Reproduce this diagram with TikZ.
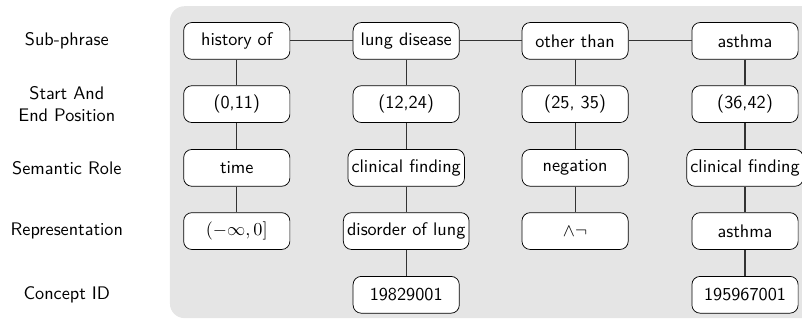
\documentclass[tikz,border=0pt]{standalone}
\renewcommand{\familydefault}{\sfdefault}
\tikzset{
  cell/.style={draw, rounded corners=4.5pt, fill=white, minimum width=2.05cm, minimum height=0.71cm, inner sep=2pt},
  rowlabel/.style={align=center},
  link/.style={semithick, black!80}
}
\begin{document}
\begin{tikzpicture}
				\clip (0,0) rectangle (15.48,-6.27);
				% background panel
				\fill[gray!20, rounded corners=8pt] (3.28,-0.12) rectangle (16,-6.14);
				% row labels
				\node[rowlabel] (lsub) at (1.29,-0.79) {Sub-phrase};
				\node[rowlabel] (lpos) at (1.29,-2.01) {Start And\\End Position};
				\node[rowlabel] (lrole) at (1.29,-3.24) {Semantic Role};
				\node[rowlabel] (lrep) at (1.29,-4.46) {Representation};
				\node[rowlabel] (lid) at (1.29,-5.69) {Concept ID};
				% sub-phrases
				\node[cell] (sub1) at (4.57,-0.79) {history of};
				\node[cell] (sub2) at (7.84,-0.79) {lung disease};
				\node[cell] (sub3) at (11.10,-0.79) {other than};
				\node[cell] (sub4) at (14.38,-0.79) {asthma};
				% positions
				\node[cell] (pos1) at (4.57,-2.01) {(0,11)};
				\node[cell] (pos2) at (7.84,-2.01) {(12,24)};
				\node[cell] (pos3) at (11.10,-2.01) {(25, 35)};
				\node[cell] (pos4) at (14.38,-2.01) {(36,42)};
				% semantic roles
				\node[cell] (role1) at (4.57,-3.24) {time};
				\node[cell] (role2) at (7.84,-3.24) {clinical finding};
				\node[cell] (role3) at (11.10,-3.24) {negation};
				\node[cell] (role4) at (14.38,-3.24) {clinical finding};
				% representations
				\node[cell] (rep1) at (4.57,-4.46) {$(-\infty,0]$};
				\node[cell] (rep2) at (7.84,-4.46) {disorder of lung};
				\node[cell] (rep3) at (11.10,-4.46) {$\wedge\neg$};
				\node[cell] (rep4) at (14.38,-4.46) {asthma};
				% concept ids
				\node[cell] (id2) at (7.84,-5.69) {19829001};
				\node[cell] (id4) at (14.38,-5.69) {195967001};

				\draw[link] (sub1) -- (sub2) -- (sub3) -- (sub4);
				\foreach \i in {1,...,4} {
					\draw[link] (sub\i) -- (pos\i) -- (role\i) -- (rep\i);
				}
				\draw[link] (rep2) -- (id2);
				\draw[link] (rep4) -- (id4);
\end{tikzpicture}
\end{document}
